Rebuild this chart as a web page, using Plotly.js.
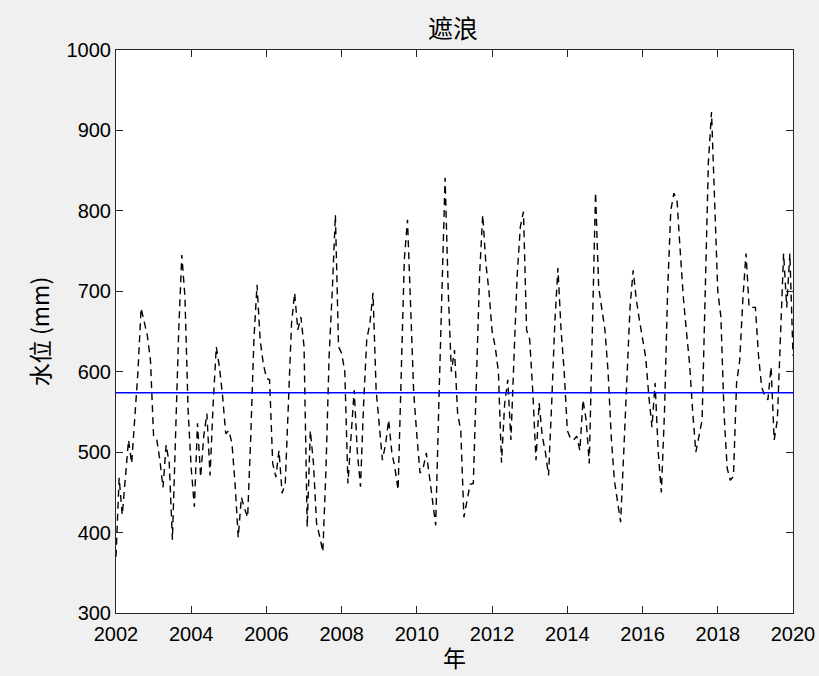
<!DOCTYPE html>
<html>
<head>
<meta charset="utf-8">
<script src="https://cdn.plot.ly/plotly-3.0.1.min.js"></script>
<style>
  html, body { margin: 0; padding: 0; background: #f0f0f0; }
  #chart { width: 819px; height: 676px; }
</style>
</head>
<body>
<div id="chart"></div>
<script>
// Monthly water level (mm) at 遮浪, Jan 2002 onward
const startYear = 2002;
const level2002 = [370, 468, 422, 470, 515, 486, 545, 600, 679, 660, 645, 614];
const level2003 = [519, 516, 490, 456, 509, 486, 391, 520, 650, 745, 693, 552];
const level2004 = [480, 432, 536, 469, 520, 548, 471, 560, 631, 606, 570, 523];
const level2005 = [527, 511, 460, 394, 444, 430, 419, 520, 640, 708, 639, 610];
const level2006 = [592, 590, 486, 469, 502, 449, 461, 560, 660, 698, 652, 668];
const level2007 = [631, 407, 527, 486, 411, 395, 376, 480, 620, 700, 795, 631];
const level2008 = [623, 600, 461, 520, 577, 500, 457, 560, 640, 660, 698, 577];
const level2009 = [530, 490, 510, 540, 500, 480, 453, 600, 740, 789, 680, 573];
const level2010 = [520, 474, 480, 499, 470, 440, 409, 560, 700, 841, 700, 600];
const level2011 = [627, 548, 527, 419, 440, 460, 461, 600, 720, 795, 735, 700];
const level2012 = [650, 631, 600, 487, 560, 590, 515, 620, 720, 780, 799, 652];
const level2013 = [640, 573, 490, 561, 520, 500, 471, 560, 660, 729, 652, 600];
const level2014 = [527, 517, 515, 520, 502, 565, 540, 486, 650, 823, 705, 680];
const level2015 = [652, 600, 520, 465, 440, 413, 500, 600, 680, 726, 690, 664];
const level2016 = [640, 618, 570, 531, 586, 500, 450, 550, 700, 800, 822, 813];
const level2017 = [751, 693, 650, 610, 550, 500, 520, 540, 700, 860, 923, 797];
const level2018 = [700, 668, 548, 480, 465, 470, 586, 614, 690, 747, 680, 680];
const level2019 = [680, 620, 581, 570, 565, 606, 515, 540, 650, 747, 680, 747];
const level2020 = [620];

// Long-term mean level (mm)
const meanLevel = 574;

const xTickValues = [2002, 2004, 2006, 2008, 2010, 2012, 2014, 2016, 2018, 2020];
const yTickValues = [300, 400, 500, 600, 700, 800, 900, 1000];

const levels = [].concat(level2002, level2003, level2004, level2005, level2006,
  level2007, level2008, level2009, level2010, level2011, level2012, level2013,
  level2014, level2015, level2016, level2017, level2018, level2019, level2020);
const times = levels.map((_, i) => startYear + i / 12);

const fontStack = '"Liberation Sans", Arial, "Noto Sans CJK SC", sans-serif';
const cjkStack = '"Noto Sans CJK SC", "Liberation Sans", sans-serif';

const traces = [
  {
    x: times,
    y: levels,
    type: 'scatter',
    mode: 'lines',
    line: { color: '#000000', width: 1.4, dash: '7px,5px' },
    hoverinfo: 'x+y'
  },
  {
    x: [times[0], times[times.length - 1]],
    y: [meanLevel, meanLevel],
    type: 'scatter',
    mode: 'lines',
    line: { color: '#0000ff', width: 1.5 }
  }
];

const axisCommon = {
  showgrid: false,
  zeroline: false,
  showline: true,
  linecolor: '#262626',
  linewidth: 1,
  mirror: 'allticks',
  ticks: 'inside',
  ticklen: 7,
  tickwidth: 1,
  tickcolor: '#262626',
  tickfont: { family: fontStack, size: 20, color: '#000000' }
};

const layout = {
  width: 819,
  height: 676,
  paper_bgcolor: '#f0f0f0',
  plot_bgcolor: '#ffffff',
  showlegend: false,
  margin: { l: 116, r: 26, t: 50, b: 63 },
  title: {
    text: '遮浪',
    font: { family: cjkStack, size: 25, color: '#000000' },
    x: 0.553, xanchor: 'center',
    y: 0.957, yanchor: 'middle'
  },
  xaxis: Object.assign({}, axisCommon, {
    range: [2002, 2020],
    tickvals: xTickValues,
    ticktext: xTickValues.map(String),
    ticklabelstandoff: 3,
    title: { text: '年', font: { family: cjkStack, size: 23, color: '#000000' }, standoff: 6 }
  }),
  yaxis: Object.assign({}, axisCommon, {
    range: [300, 1000],
    tickvals: yTickValues,
    ticktext: yTickValues.map(String),
    title: { text: '水位 (mm)', font: { family: cjkStack, size: 23, color: '#000000' }, standoff: 10 }
  })
};

Plotly.newPlot('chart', traces, layout, { displayModeBar: false, staticPlot: true });
</script>
</body>
</html>
